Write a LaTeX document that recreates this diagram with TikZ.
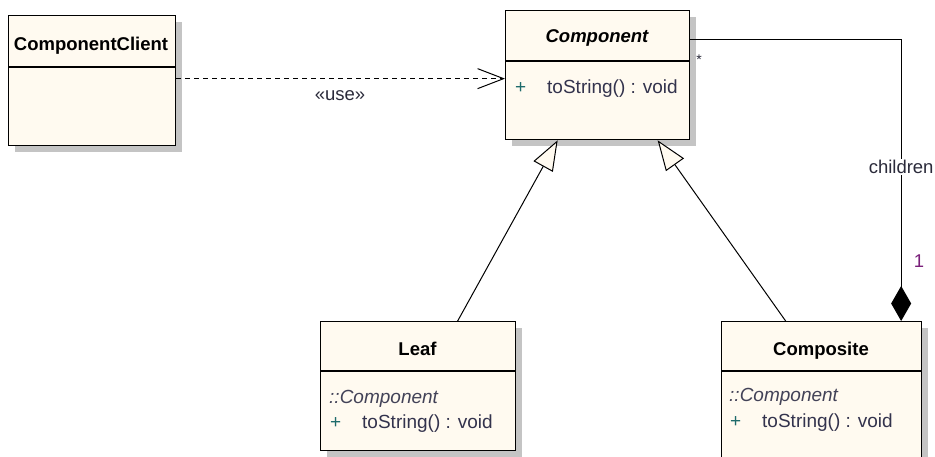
\documentclass[tikz,border=0pt]{standalone}
\usepackage{fontspec}
\setmainfont{Liberation Sans}
\usetikzlibrary{arrows.meta,shadows,calc}
\definecolor{cream}{HTML}{FFFAF0}
\definecolor{shade}{HTML}{C4C4C4}
\definecolor{optext}{HTML}{33334D}
\definecolor{plus}{HTML}{1E6B6B}
\definecolor{mult}{HTML}{7A1F7A}
\definecolor{lbl}{HTML}{2A2A3A}
\tikzset{
  classbox/.style={draw=black, line width=1.3pt, fill=cream, anchor=north west,
    inner sep=0pt, drop shadow={shadow xshift=6pt, shadow yshift=-6pt, fill=shade, opacity=1}},
  divider/.style={draw=black, line width=1.3pt},
  classname/.style={font=\fontsize{18.5}{22}\selectfont\bfseries, text=black, anchor=base, inner sep=0pt},
  abstractname/.style={classname, font=\fontsize{18.5}{22}\selectfont\bfseries\itshape},
  optxt/.style={font=\fontsize{19}{22}\selectfont, text=optext, anchor=base west, inner sep=0pt},
  plustxt/.style={font=\fontsize{19}{22}\selectfont, text=plus, anchor=base west, inner sep=0pt},
  parenttxt/.style={font=\fontsize{19}{22}\selectfont\itshape, text=optext!80!gray, anchor=base west, inner sep=0pt},
  edgelabel/.style={font=\fontsize{18.5}{22}\selectfont, text=lbl, inner sep=1.5pt},
  multlabel/.style={font=\fontsize{18.5}{22}\selectfont, text=mult, inner sep=0pt},
  conn/.style={draw=black, line width=1pt},
  dependency/.style={conn, dashed, dash pattern=on 5pt off 4pt, -{Straight Barb[length=26pt,width=20pt,line width=1pt]}},
  realize/.style={conn, -{Triangle[open, length=30pt, width=22pt, fill=cream, line width=1pt]}},
  composition/.style={conn, -{Diamond[length=35pt, width=20pt, fill=black, line width=1pt]}}
}
\begin{document}
\begin{tikzpicture}[x=1pt, y=-1pt]
\useasboundingbox (0,0) rectangle (935,457);
\clip (0,0) rectangle (935,457);
\fill[white] (0,0) rectangle (935,457);

% class boxes
\node[classbox, minimum width=167pt, minimum height=130pt] (client) at (8,15) {};
\node[classbox, minimum width=184pt, minimum height=129pt] (comp) at (505,10) {};
\node[classbox, minimum width=195pt, minimum height=129pt] (leaf) at (320,321) {};
\node[classbox, minimum width=200pt, minimum height=150pt] (composite) at (721,321) {};

% dividers
\draw[divider] ([yshift=-52pt]client.north west) -- ([yshift=-52pt]client.north east);
\draw[divider] ([yshift=-51pt]comp.north west) -- ([yshift=-51pt]comp.north east);
\draw[divider] ([yshift=-50pt]leaf.north west) -- ([yshift=-50pt]leaf.north east);
\draw[divider] ([yshift=-50pt]composite.north west) -- ([yshift=-50pt]composite.north east);

% texts
\node[classname] (clientname) at (91,51) {ComponentClient};
\node[abstractname] (compname) at (597,43) {Component};
\node[plustxt] (compplus) at (515,94) {+};
\node[optxt] (compop) at (547,94) {toString() : void};

\node[classname] (leafname) at (417.5,355) {Leaf};
\node[parenttxt] (leafparent) at (329,403) {::Component};
\node[plustxt] (leafplus) at (330,428) {+};
\node[optxt] (leafop) at (362,428) {toString() : void};

\node[classname] (compositename) at (821,355) {Composite};
\node[parenttxt] (compositeparent) at (729,401) {::Component};
\node[plustxt] (compositeplus) at (730,427) {+};
\node[optxt] (compositeop) at (762,427) {toString() : void};

% connectors
\coordinate (depstart) at ([yshift=2pt]client.east);
\draw[dependency] (depstart) -- (comp.west |- depstart);
\node[edgelabel] (uselabel) at (340,96) {«use»};

\draw[realize] ([xshift=39.5pt]leaf.north) -- ([xshift=-40pt]comp.south);
\draw[realize] ([xshift=-36pt]composite.north) -- ([xshift=60pt]comp.south);

\coordinate (aggstart) at ([yshift=-30pt]comp.north east);
\coordinate (aggend) at ([xshift=79.5pt]composite.north);
\draw[composition] (aggstart) -| (aggend);
\node[edgelabel, fill=white] (childrenlabel) at (aggend |- 0,167) {children};
\node[multlabel] (onelabel) at (919,261) {1};
\node[multlabel, text=lbl, font=\fontsize{14}{16}\selectfont] (starlabel) at (699,60) {*};
\end{tikzpicture}
\end{document}
